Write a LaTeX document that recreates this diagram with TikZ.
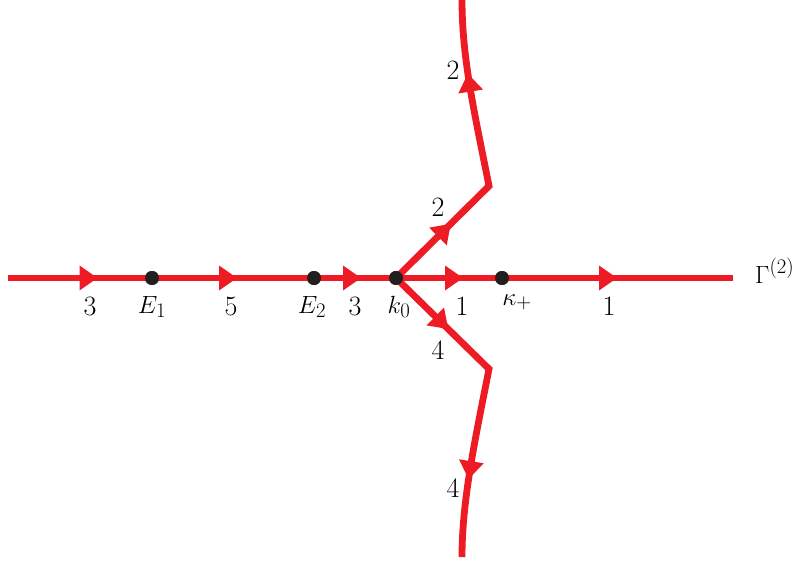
\documentclass[tikz,border=0pt]{standalone}
\usetikzlibrary{decorations.markings}
\definecolor{cred}{RGB}{237,28,36}
\definecolor{cdot}{RGB}{35,31,32}
\newcommand\mytri{\fill[cred] (-9,-12.5)--(9,0)--(-9,12.5)--cycle;}
\tikzset{
  contour/.style={draw=cred, line width=6.8pt},
  arrat/.style={postaction={decorate, decoration={markings, mark=at position #1 with {\mytri}}}},
  pdot/.style={circle, fill=cdot, minimum size=14pt, inner sep=0pt},
  lbl/.style={font=\fontsize{28}{32}\selectfont, inner sep=0pt, text=black},
}
\begin{document}
\begin{tikzpicture}[x=1pt, y=-1pt]
\useasboundingbox (0,0) rectangle (803,564);
\coordinate (st) at (8,278);
\coordinate (en) at (733,278);
\coordinate (uc) at (489,186);
\coordinate (ut) at (462,0);
\coordinate (lc) at (489,369);
\coordinate (lb) at (462,557);
\node[pdot] (E1) at (152,278) {};
\node[pdot] (E2) at (314,278) {};
\node[pdot] (k0) at (396,278) {};
\node[pdot] (kp) at (502,278) {};

\draw[contour, arrat=80.5pt] (st) -- (E1.center);
\draw[contour, arrat=76pt] (E1.center) -- (E2.center);
\draw[contour, arrat=38pt] (E2.center) -- (k0.center);
\draw[contour, arrat=58pt] (k0.center) -- (kp.center);
\draw[contour, arrat=106pt] (kp.center) -- (en);
\draw[contour, miter limit=10, arrat=68pt, postaction={decorate, decoration={markings, mark=at position 236pt with {\mytri}}}]
  (k0.center) -- (uc) .. controls (475,115) and (462,60) .. (ut);
\draw[contour, miter limit=10, arrat=64pt, postaction={decorate, decoration={markings, mark=at position 233pt with {\mytri}}}]
  (k0.center) -- (lc) .. controls (475,440) and (462,500) .. (lb);

\node[pdot] at (E1) {};
\node[pdot] at (E2) {};
\node[pdot] at (k0) {};
\node[pdot] at (kp) {};

\node[lbl, anchor=base] (n3a) at (90,315) {3};
\node[lbl, anchor=base] (nE1) at (152,313) {$E_1$};
\node[lbl, anchor=base] (n5) at (231,315) {5};
\node[lbl, anchor=base] (nE2) at (312,313) {$E_2$};
\node[lbl, anchor=base] (n3b) at (355,315) {3};
\node[lbl, anchor=base] (nk0) at (399,313) {$k_0$};
\node[lbl, anchor=base] (n1a) at (462,315) {1};
\node[lbl, anchor=base] (nkp) at (517,305) {$\kappa_+$};
\node[lbl, anchor=base] (n1b) at (609,315) {1};
\node[lbl, anchor=base west] (nG) at (755,283) {$\Gamma^{(2)}$};
\node[lbl, anchor=base] (n2a) at (453,80) {2};
\node[lbl, anchor=base] (n2b) at (438,217) {2};
\node[lbl, anchor=base] (n4a) at (438,359) {4};
\node[lbl, anchor=base] (n4b) at (453,497) {4};
\end{tikzpicture}
\end{document}
